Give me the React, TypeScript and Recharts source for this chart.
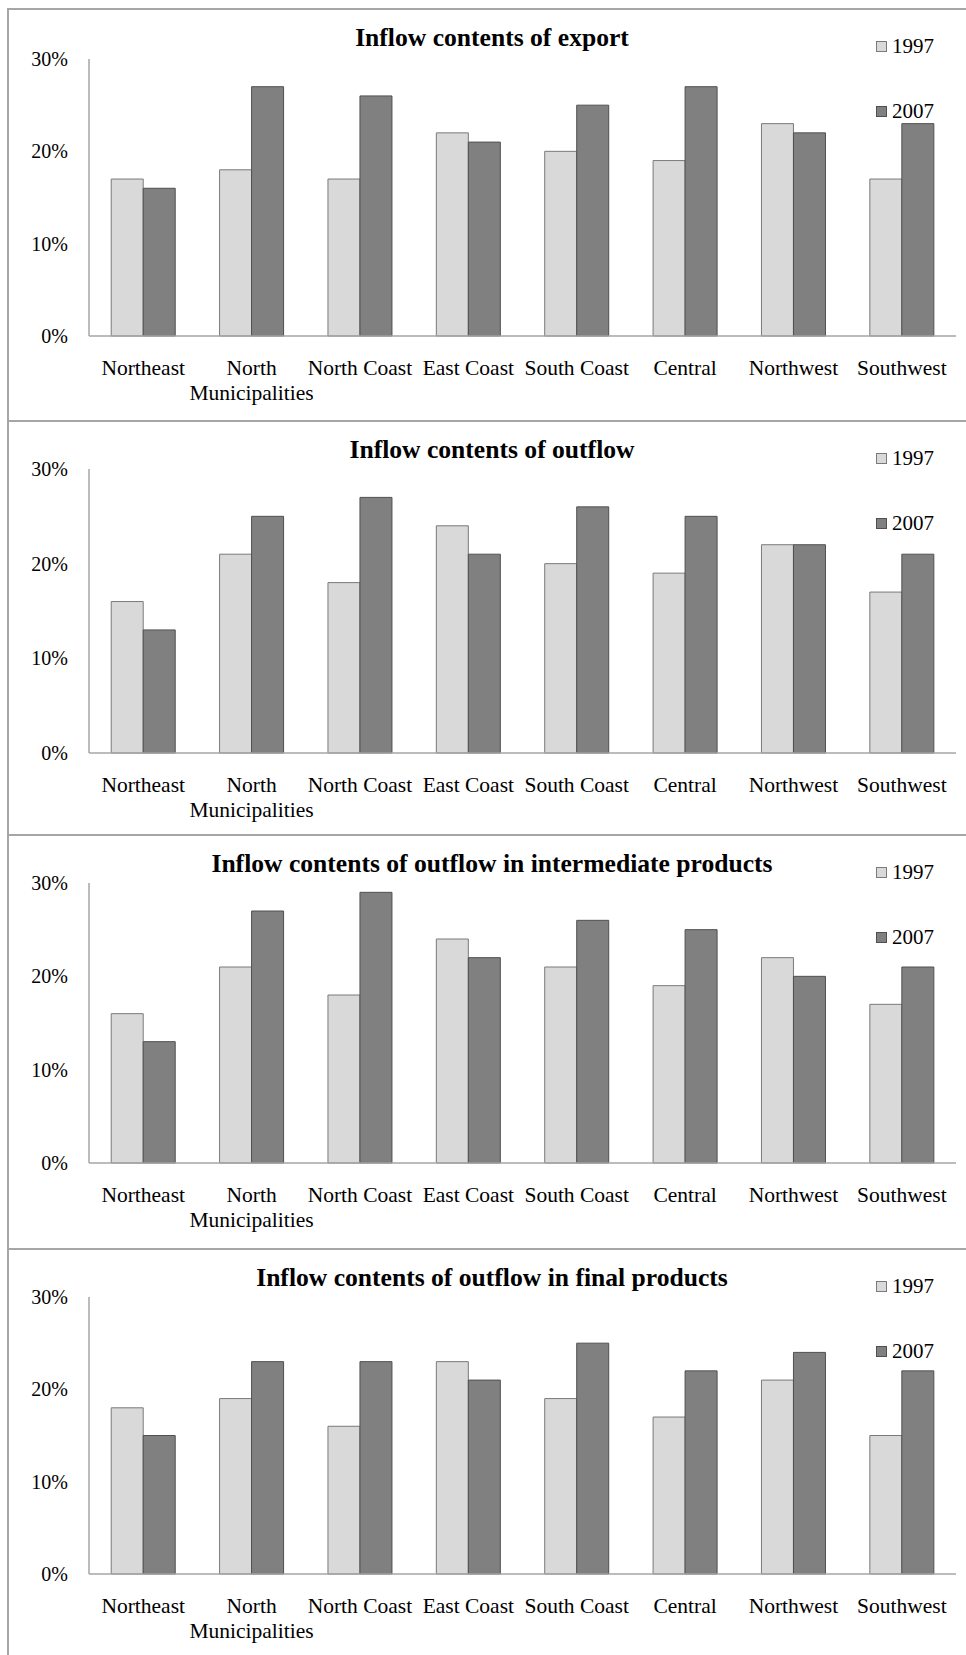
import { Bar, BarChart, XAxis, YAxis } from "recharts";

const REGIONS = [
  "Northeast",
  "North Municipalities",
  "North Coast",
  "East Coast",
  "South Coast",
  "Central",
  "Northwest",
  "Southwest",
];

const YEARS = ["1997", "2007"];

const EXPORT_1997 = [17, 18, 17, 22, 20, 19, 23, 17];
const EXPORT_2007 = [16, 27, 26, 21, 25, 27, 22, 23];

const OUTFLOW_1997 = [16, 21, 18, 24, 20, 19, 22, 17];
const OUTFLOW_2007 = [13, 25, 27, 21, 26, 25, 22, 21];

const INTERMEDIATE_1997 = [16, 21, 18, 24, 21, 19, 22, 17];
const INTERMEDIATE_2007 = [13, 27, 29, 22, 26, 25, 20, 21];

const FINAL_1997 = [18, 19, 16, 23, 19, 17, 21, 15];
const FINAL_2007 = [15, 23, 23, 21, 25, 22, 24, 22];

const TITLES = [
  "Inflow contents of export",
  "Inflow contents of outflow",
  "Inflow contents of outflow in intermediate products",
  "Inflow contents of outflow in final products",
];

const Y_TICKS = [0, 10, 20, 30];

const FONT = "'Liberation Serif', 'Times New Roman', Times, serif";
const AXIS_COLOR = "#a6a6a6";
const FILLS = ["#d9d9d9", "#808080"];
const STROKES = ["#7a7a7a", "#505050"];

// panel frame: top edge, plot top and zero line (relative to the panel)
const PANEL_LAYOUT = [
  { top: 8, plotTop: 51, zeroY: 328 },
  { top: 420, plotTop: 49, zeroY: 333 },
  { top: 834, plotTop: 49, zeroY: 329 },
  { top: 1248, plotTop: 49, zeroY: 326 },
];

const CHART_W = 966;
const CHART_H = 414;
const X_AXIS_H = 80;

const panels = [
  [EXPORT_1997, EXPORT_2007],
  [OUTFLOW_1997, OUTFLOW_2007],
  [INTERMEDIATE_1997, INTERMEDIATE_2007],
  [FINAL_1997, FINAL_2007],
].map(([a, b], i) => ({
  title: TITLES[i],
  rows: REGIONS.map((region, j) => ({ region, y1997: a[j], y2007: b[j] })),
  ...PANEL_LAYOUT[i],
}));

function RegionTick(props: any) {
  const { x, y, payload } = props;
  const label = String(payload.value);
  const cut = label.indexOf(" ");
  const lines = label.length > 12 && cut > 0 ? [label.slice(0, cut), label.slice(cut + 1)] : [label];
  return (
    <text x={x} y={y + 39} textAnchor="middle" fontSize={21.5} fontFamily={FONT} fill="#000">
      {lines.map((line, i) => (
        <tspan key={i} x={x} dy={i === 0 ? 0 : 25}>
          {line}
        </tspan>
      ))}
    </text>
  );
}

function Panel({ panel }: { panel: (typeof panels)[number] }) {
  const { title, rows, top, plotTop, zeroY } = panel;
  return (
    <>
      <div
        style={{
          position: "absolute",
          left: 0,
          top: top + 17,
          width: 984,
          textAlign: "center",
          fontFamily: FONT,
          fontWeight: "bold",
          fontSize: 25.6,
          lineHeight: "25px",
          color: "#000",
          whiteSpace: "nowrap",
        }}
      >
        {title}
      </div>
      <div style={{ position: "absolute", left: 0, top }}>
        <BarChart
          width={CHART_W}
          height={CHART_H}
          data={rows}
          margin={{ top: plotTop, right: 10, bottom: CHART_H - zeroY - X_AXIS_H, left: 29 }}
          barCategoryGap="20.5%"
          barGap={0}
        >
          <XAxis
            dataKey="region"
            height={X_AXIS_H}
            interval={0}
            tickLine={false}
            tickSize={0}
            tickMargin={0}
            axisLine={{ stroke: AXIS_COLOR, strokeWidth: 1.5 }}
            tick={<RegionTick />}
          />
          <YAxis
            width={60}
            domain={[0, 30]}
            ticks={Y_TICKS}
            interval={0}
            tickLine={false}
            tickSize={0}
            tickMargin={21}
            axisLine={{ stroke: AXIS_COLOR, strokeWidth: 1.5 }}
            tickFormatter={(v) => `${v}%`}
            tick={{ fill: "#000", fontSize: 20, fontFamily: FONT }}
          />
          {YEARS.map((year, i) => (
            <Bar
              key={year}
              dataKey={`y${year}`}
              name={year}
              fill={FILLS[i]}
              stroke={STROKES[i]}
              strokeWidth={1}
              isAnimationActive={false}
            />
          ))}
        </BarChart>
      </div>
      {YEARS.map((year, i) => (
        <div
          key={year}
          style={{
            position: "absolute",
            left: 876,
            top: top + 26 + i * 65,
            height: 24,
            display: "flex",
            alignItems: "center",
            fontFamily: FONT,
            fontSize: 21,
            lineHeight: "24px",
            color: "#000",
          }}
        >
          <span
            style={{
              display: "inline-block",
              width: 11,
              height: 11,
              boxSizing: "border-box",
              background: FILLS[i],
              border: `1px solid ${STROKES[i]}`,
              marginRight: 5,
            }}
          />
          {year}
        </div>
      ))}
    </>
  );
}

export default function App() {
  return (
    <div
      style={{
        position: "absolute",
        left: 0,
        top: 0,
        width: 966,
        height: 1655,
        overflow: "hidden",
        background: "#fff",
      }}
    >
      {panels.map((p, i) => {
        const next = i + 1 < panels.length ? panels[i + 1].top : 1700;
        return (
          <div
            key={`frame-${i}`}
            style={{
              position: "absolute",
              left: 7,
              top: p.top,
              width: 1000,
              height: next - p.top,
              borderTop: `2px solid ${AXIS_COLOR}`,
              borderLeft: `2px solid ${AXIS_COLOR}`,
              boxSizing: "border-box",
            }}
          />
        );
      })}
      {panels.map((p, i) => (
        <Panel key={i} panel={p} />
      ))}
    </div>
  );
}
